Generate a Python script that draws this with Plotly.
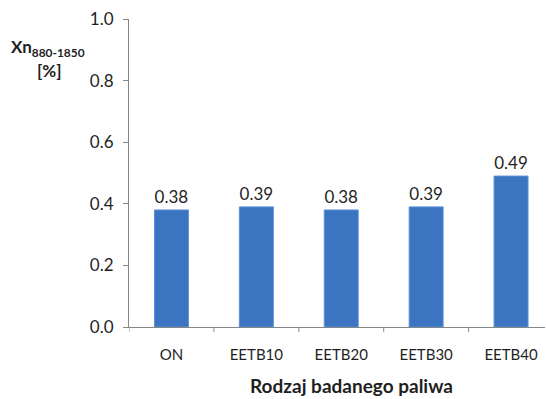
import plotly.graph_objects as go

fuels = ["ON", "EETB10", "EETB20", "EETB30", "EETB40"]
xn_values = [0.38, 0.39, 0.38, 0.39, 0.49]
y_ticks = [0.0, 0.2, 0.4, 0.6, 0.8, 1.0]

font_family = "Lato, Open Sans, sans-serif"
axis_grey = "#868686"
text_col = "#1f1f1f"

fig = go.Figure(
    go.Bar(
        x=list(range(len(fuels))),
        y=xn_values,
        width=0.4,
        marker=dict(color="#3b74c0", line=dict(color="#5b8fd6", width=1)),
        text=xn_values,
        texttemplate="%{y:.2f}",
        textposition="outside",
        textfont=dict(family=font_family, size=17, color=text_col),
        cliponaxis=False,
    )
)

fig.update_layout(
    width=546,
    height=399,
    margin=dict(l=129, r=1, t=19, b=72),
    paper_bgcolor="white",
    plot_bgcolor="white",
    showlegend=False,
    font=dict(family=font_family, size=16, color=text_col),
    xaxis=dict(
        range=[-0.5, 4.4],
        tickmode="array",
        tickvals=list(range(len(fuels))),
        ticktext=fuels,
        showline=True,
        linecolor=axis_grey,
        linewidth=1,
        ticks="",
        showgrid=False,
        zeroline=False,
        tickfont=dict(size=15),
        ticklabelstandoff=14,
    ),
    yaxis=dict(
        range=[0, 1.0],
        tickmode="array",
        tickvals=y_ticks,
        ticktext=[f"{v:.1f}" for v in y_ticks],
        showline=True,
        linecolor=axis_grey,
        linewidth=1,
        ticks="outside",
        ticklen=5,
        tickcolor=axis_grey,
        showgrid=False,
        zeroline=False,
        tickfont=dict(size=17),
        ticklabelstandoff=6,
    ),
    bargap=0.6,
)

# category boundary ticks on the x axis
for b in [-0.5, 0.5, 1.5, 2.5, 3.5]:
    fig.add_shape(type="line", xref="x", yref="paper", x0=b, x1=b, y0=0, y1=-0.016,
                  line=dict(color=axis_grey, width=1))

# x axis title
fig.add_annotation(
    text="<b>Rodzaj badanego paliwa</b>",
    xref="paper", yref="paper", x=0.536, y=-0.19,
    xanchor="center", yanchor="middle", showarrow=False,
    font=dict(size=19, color=text_col),
)

# y axis title, two lines
fig.add_annotation(
    text="<b>Xn<sub>880-1850</sub></b>",
    xref="paper", yref="paper", x=-0.195, y=0.905,
    xanchor="center", yanchor="middle", showarrow=False,
    font=dict(size=17, color=text_col),
)
fig.add_annotation(
    text="<b>[%]</b>",
    xref="paper", yref="paper", x=-0.19, y=0.832,
    xanchor="center", yanchor="middle", showarrow=False,
    font=dict(size=17, color=text_col),
)

fig.write_html("out.html")
